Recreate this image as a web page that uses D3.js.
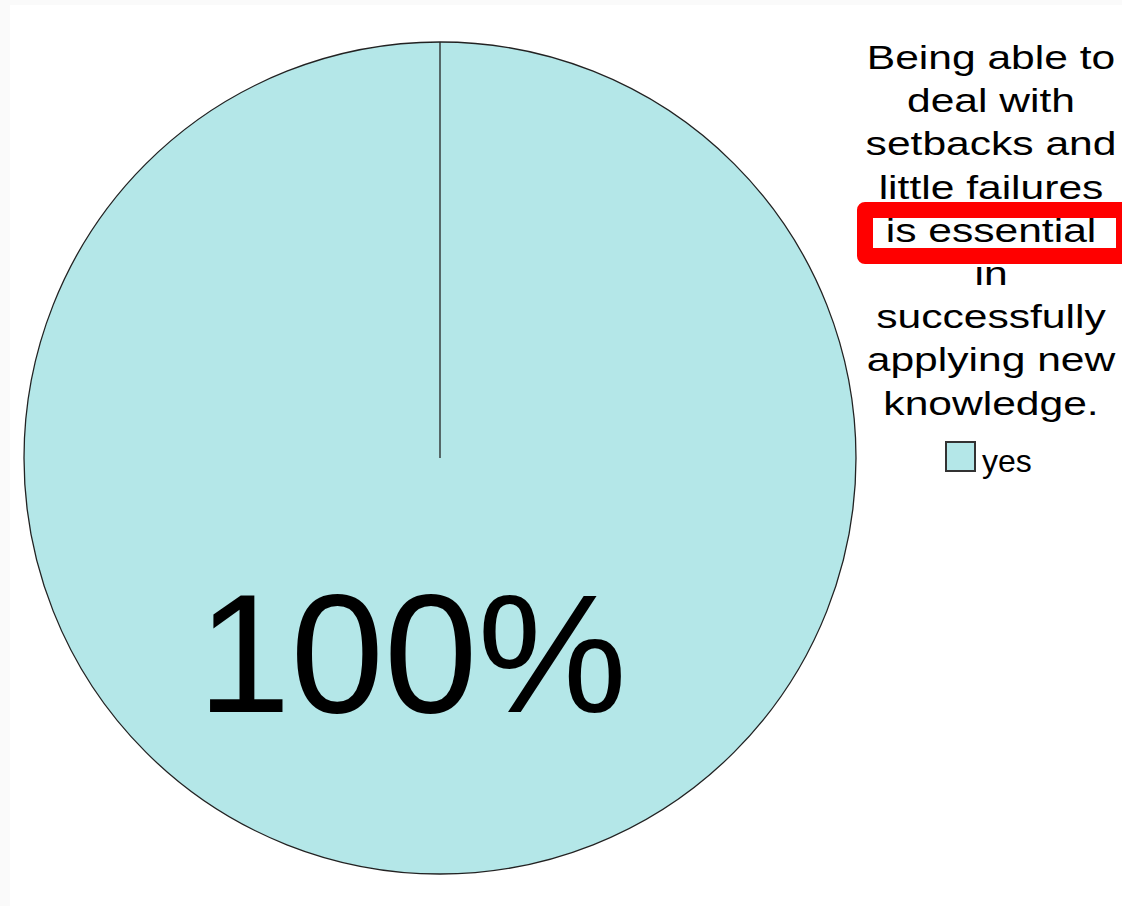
<!DOCTYPE html>
<html>
<head>
<meta charset="utf-8">
<script src="https://cdn.jsdelivr.net/npm/d3@7"></script>
<style>
  body { margin: 0; background: #fafafa; }
  text { font-family: "Liberation Sans", Arial, sans-serif; }
</style>
</head>
<body>
<svg id="svgPie"></svg>
<script>
// DATA ////////////////////////////////////////////////////////////////////
var categories = ["yes"];
var values = [100];
var titleLines = ["Being able to", "deal with", "setbacks and", "little failures",
    "is essential", "in", "successfully", "applying new", "knowledge."];

var WIDTH = 1122, HEIGHT = 906;
var PIE_CX = 440, PIE_CY = 458, PIE_R = 416;
var COLOURS = ["#b4e7e8"];

var svg = d3.select("#svgPie")
    .attr("width", WIDTH)
    .attr("height", HEIGHT);

// white page area (thin grey margin top and left)
svg.append("rect")
    .attr("x", 10).attr("y", 5)
    .attr("width", WIDTH - 10).attr("height", HEIGHT - 5)
    .attr("fill", "white");

var colour = d3.scaleOrdinal().domain(categories).range(COLOURS);

var pieData = d3.pie().sort(null)(values);

var arc = d3.arc().innerRadius(0).outerRadius(PIE_R);
var labelArc = d3.arc().innerRadius(PIE_R * 0.92).outerRadius(0);

var pie_g = svg.append("g").attr("transform", "translate(" + PIE_CX + "," + PIE_CY + ")");

pie_g.selectAll("path.slice")
    .data(pieData)
    .enter().append("path")
    .classed("slice", true)
    .attr("d", arc)
    .attr("fill", function (d, i) { return colour(categories[i]); })
    .attr("stroke", "#222")
    .attr("stroke-width", 1.3);

// slice boundary lines (a full circle arc has no radial edge)
pie_g.selectAll("line.edge")
    .data(pieData)
    .enter().append("line")
    .classed("edge", true)
    .attr("x1", 0).attr("y1", 0)
    .attr("x2", function (d) { return PIE_R * Math.sin(d.startAngle); })
    .attr("y2", function (d) { return -PIE_R * Math.cos(d.startAngle); })
    .attr("stroke", "#222")
    .attr("stroke-width", 1.3);

// percentage labels
var total = d3.sum(values);
pie_g.selectAll("text.pct")
    .data(pieData)
    .enter().append("text")
    .classed("pct", true)
    .attr("transform", function (d) { return "translate(" + labelArc.centroid(d) + ")"; })
    .attr("dx", -28)
    .attr("dy", "0.37em")
    .attr("text-anchor", "middle")
    .attr("font-size", 168)
    .attr("fill", "black")
    .text(function (d) { return Math.round(d.value / total * 100) + "%"; });

// title, wrapped, slightly widened
var title_g = svg.append("g").attr("transform", "translate(991,0) scale(1.29,1)");
title_g.selectAll("text")
    .data(titleLines)
    .enter().append("text")
    .attr("x", 0)
    .attr("y", function (d, i) { return 69 + i * 43.2; })
    .attr("text-anchor", "middle")
    .attr("font-size", 33)
    .attr("fill", "black")
    .text(function (d) { return d; });

// red highlight box around one line
svg.append("rect")
    .attr("x", 865).attr("y", 210)
    .attr("width", 259).attr("height", 46)
    .attr("fill", "none")
    .attr("stroke", "#ff0000")
    .attr("stroke-width", 16)
    .attr("stroke-linejoin", "round");

// legend
var legend = svg.append("g")
    .selectAll("g")
    .data(categories)
    .enter().append("g")
    .attr("transform", function (d, i) { return "translate(946," + (442 + i * 40) + ")"; });

legend.append("rect")
    .attr("width", 29)
    .attr("height", 29)
    .attr("fill", colour)
    .attr("stroke", "#333")
    .attr("stroke-width", 2);

legend.append("text")
    .attr("x", 36)
    .attr("y", 30)
    .attr("font-size", 32)
    .attr("fill", "black")
    .text(function (d) { return d; });
</script>
</body>
</html>
